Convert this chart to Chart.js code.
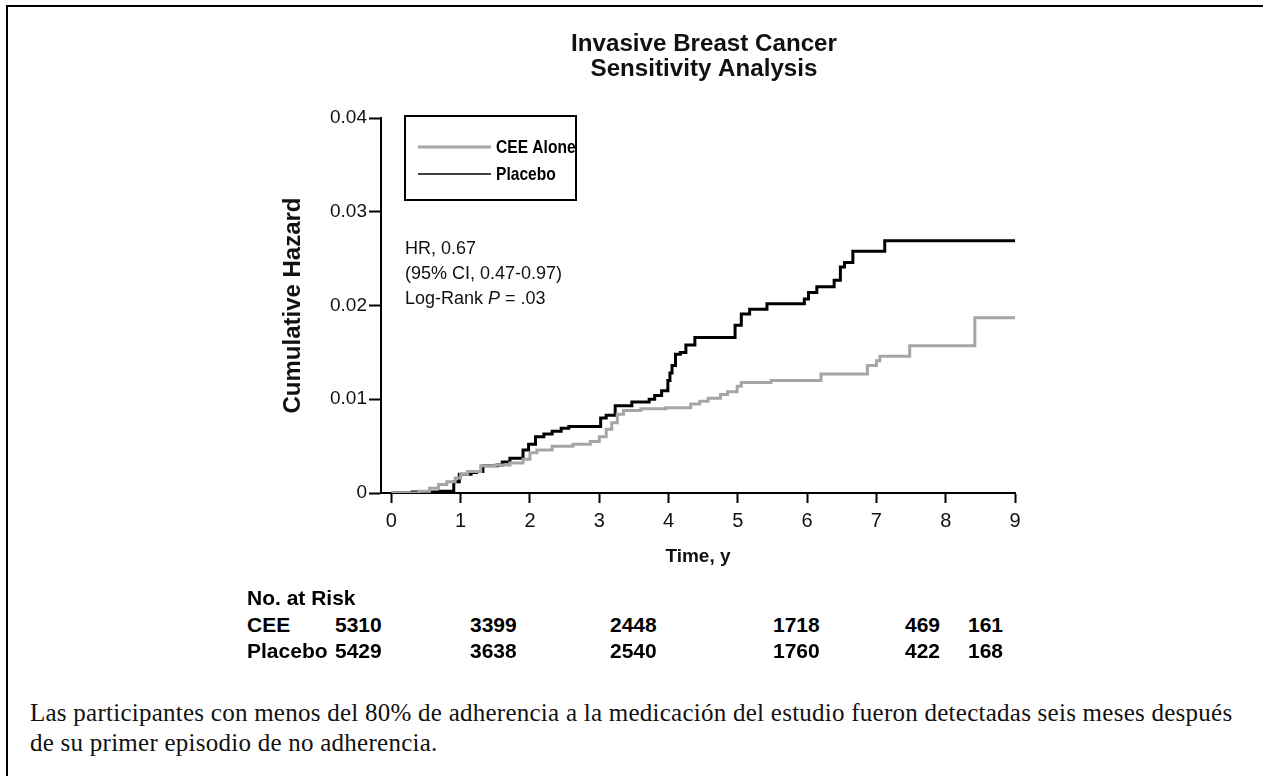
<!DOCTYPE html>
<html>
<head>
<meta charset="utf-8">
<script src="https://cdn.jsdelivr.net/npm/chart.js@4.4.0/dist/chart.umd.min.js"></script>
<style>
  body { margin: 0; background: #fff; width: 1263px; height: 776px; overflow: hidden; position: relative; }
  #frame { position: absolute; left: 6px; top: 5px; width: 1300px; height: 800px; border-left: 2px solid #000; border-top: 2px solid #000; }
  #wrap { position: absolute; left: 0; top: 0; width: 1263px; height: 600px; }
  .risk { position: absolute; font-family: "Liberation Sans", Arial, sans-serif; font-weight: bold; font-size: 21px; line-height: 26px; color: #000; white-space: nowrap; }
  #caption { position: absolute; left: 30px; top: 698px; width: 1208px; font-family: "Liberation Serif", serif; font-size: 25px; letter-spacing: 0.25px; line-height: 30px; color: #111; }
</style>
</head>
<body>
<div id="frame"></div>
<div id="wrap"><canvas id="km"></canvas></div>
<div id="riskTable"></div>
<div id="caption">Las participantes con menos del 80% de adherencia a la medicación del estudio fueron detectadas seis meses después de su primer episodio de no adherencia.</div>
<script>
var titleLines = ['Invasive Breast Cancer', 'Sensitivity Analysis'];
var seriesNames = ['CEE Alone', 'Placebo'];
var statsLines = ['HR, 0.67', '(95% CI, 0.47-0.97)', 'Log-Rank P = .03'];

// step points: time in years, cumulative hazard
var ceeTime = [0, 0.4, 0.55, 0.68, 0.8, 0.92, 1.0, 1.1, 1.29, 1.5, 1.71, 1.9, 2.0, 2.1, 2.32, 2.62, 2.87, 3.0, 3.1, 3.18, 3.26, 3.35, 3.6, 3.96, 4.32, 4.45, 4.57, 4.75, 4.85, 4.99, 5.05, 5.48, 6.2, 6.87, 7.0, 7.05, 7.48, 8.42, 9.0];
var ceeHaz  = [0, 0.0002, 0.0005, 0.0009, 0.0012, 0.0016, 0.002, 0.0023, 0.0029, 0.003, 0.0032, 0.0036, 0.0043, 0.0046, 0.005, 0.0052, 0.0055, 0.006, 0.0068, 0.0075, 0.0084, 0.0088, 0.009, 0.0091, 0.0095, 0.0098, 0.0101, 0.0105, 0.0108, 0.0114, 0.0118, 0.012, 0.0127, 0.0136, 0.0141, 0.0146, 0.0157, 0.0187, 0.0187];
var plaTime = [0, 0.3, 0.7, 0.9, 0.98, 1.15, 1.23, 1.32, 1.53, 1.6, 1.71, 1.9, 1.98, 2.08, 2.2, 2.32, 2.45, 2.56, 3.02, 3.1, 3.23, 3.47, 3.72, 3.8, 3.9, 3.99, 4.02, 4.05, 4.1, 4.17, 4.25, 4.38, 4.96, 5.05, 5.17, 5.42, 5.96, 6.02, 6.14, 6.39, 6.48, 6.54, 6.66, 7.12, 9.0];
var plaHaz  = [0, 0.0001, 0.0002, 0.0012, 0.002, 0.0022, 0.0023, 0.0029, 0.003, 0.0033, 0.0037, 0.0046, 0.0052, 0.006, 0.0063, 0.0066, 0.0069, 0.0071, 0.008, 0.0083, 0.0093, 0.0097, 0.01, 0.0104, 0.0109, 0.012, 0.0128, 0.0136, 0.0148, 0.015, 0.0158, 0.0166, 0.0179, 0.0191, 0.0196, 0.0202, 0.0207, 0.0214, 0.022, 0.0227, 0.0241, 0.0246, 0.0258, 0.0269, 0.0269];

var xTicks = [0, 1, 2, 3, 4, 5, 6, 7, 8, 9];
var yTicks = [0, 0.01, 0.02, 0.03, 0.04];

var riskGroups = ['CEE', 'Placebo'];
var riskCee = [5310, 3399, 2448, 1718, 469, 161];
var riskPlacebo = [5429, 3638, 2540, 1760, 422, 168];

function pts(t, h) {
    return t.map(function (v, i) { return { x: v, y: h[i] }; });
}

// risk table below the plot
var riskCols = [335, 470, 610, 773, 905, 968];
var rt = document.getElementById('riskTable');
function addText(txt, x, y) {
    var d = document.createElement('div');
    d.className = 'risk';
    d.style.left = x + 'px';
    d.style.top = y + 'px';
    d.textContent = txt;
    rt.appendChild(d);
}
addText('No. at Risk', 247, 585);
[riskCee, riskPlacebo].forEach(function (row, r) {
    var y = 612 + r * 26;
    addText(riskGroups[r], 247, y);
    row.forEach(function (v, i) { addText(String(v), riskCols[i], y); });
});

var SANS = '"Liberation Sans", Arial, sans-serif';

// title, legend box and HR text drawn on the canvas
var extras = {
    id: 'extras',
    afterDraw: function (chart) {
        var c = chart.ctx;
        c.save();
        c.fillStyle = '#111';
        c.textAlign = 'center';
        c.textBaseline = 'middle';
        c.font = 'bold 23px ' + SANS;
        titleLines.forEach(function (t, i) {
            c.save();
            c.translate(704, 45 + i * 25);
            c.scale(1.05, 1);
            c.fillText(t, 0, 0);
            c.restore();
        });

        c.textAlign = 'left';
        c.strokeStyle = '#000';
        c.lineWidth = 2;
        c.strokeRect(405, 116, 171, 84);
        c.fillStyle = '#000';
        chart.data.datasets.forEach(function (ds, i) {
            var y = 147 + i * 27;
            c.beginPath();
            c.strokeStyle = ds.borderColor;
            c.lineWidth = i === 0 ? 3 : 1.5;
            c.moveTo(418, y);
            c.lineTo(491, y);
            c.stroke();
            c.save();
            c.translate(496, y + 1);
            c.scale(0.82, 1);
            c.font = 'bold 19px ' + SANS;
            c.fillText(ds.label, 0, 0);
            c.restore();
        });

        c.font = '18px ' + SANS;
        c.fillStyle = '#111';
        statsLines.forEach(function (s, i) {
            var y = 249 + i * 25;
            if (s.indexOf('P =') > -1) {
                var a = s.split('P');
                c.fillText(a[0], 405, y);
                var w = c.measureText(a[0]).width;
                c.font = 'italic 18px ' + SANS;
                c.fillText('P', 405 + w, y);
                var w2 = c.measureText('P').width;
                c.font = '18px ' + SANS;
                c.fillText(a[1], 405 + w + w2, y);
            } else {
                c.fillText(s, 405, y);
            }
        });
        c.restore();
    }
};

var ctx = document.getElementById('km').getContext('2d');
new Chart(ctx, {
    type: 'line',
    data: {
        datasets: [{
            label: seriesNames[0],
            data: pts(ceeTime, ceeHaz),
            borderColor: '#a6a6a6',
            borderWidth: 3,
            stepped: true,
            pointRadius: 0,
            fill: false
        }, {
            label: seriesNames[1],
            data: pts(plaTime, plaHaz),
            borderColor: '#000',
            borderWidth: 3,
            stepped: true,
            pointRadius: 0,
            fill: false
        }]
    },
    options: {
        responsive: true,
        maintainAspectRatio: false,
        animation: false,
        layout: {
            padding: { left: 279, right: 248, top: 118, bottom: 32 }
        },
        plugins: {
            legend: { display: false },
            tooltip: { enabled: false },
            title: { display: false }
        },
        scales: {
            x: {
                type: 'linear',
                min: -0.15,
                max: 9,
                afterBuildTicks: function (s) { s.ticks = xTicks.map(function (v) { return { value: v }; }); },
                afterFit: function (s) { s.height = 75; },
                grid: { display: true, drawOnChartArea: false, drawTicks: true, tickLength: 10, tickColor: '#000', tickWidth: 2 },
                border: { display: true, color: '#000', width: 2 },
                ticks: { color: '#111', padding: 6, font: { family: SANS, size: 20 } },
                title: { display: true, text: 'Time, y', color: '#111', padding: { top: 4, bottom: 0 }, font: { family: SANS, size: 19, weight: 'bold' } }
            },
            y: {
                type: 'linear',
                min: 0,
                max: 0.04,
                afterBuildTicks: function (s) { s.ticks = yTicks.map(function (v) { return { value: v }; }); },
                afterFit: function (s) { s.width = 102; },
                grid: { display: true, drawOnChartArea: false, drawTicks: true, tickLength: 12, tickColor: '#000', tickWidth: 2 },
                border: { display: true, color: '#000', width: 2 },
                ticks: {
                    color: '#111',
                    padding: 2,
                    font: { family: SANS, size: 19 },
                    callback: function (v) { return v === 0 ? '0' : v.toFixed(2); }
                },
                title: { display: true, text: 'Cumulative Hazard', color: '#111', padding: { top: 0, bottom: 2 }, font: { family: SANS, size: 24, weight: 'bold' } }
            }
        }
    },
    plugins: [extras]
});
</script>
</body>
</html>
